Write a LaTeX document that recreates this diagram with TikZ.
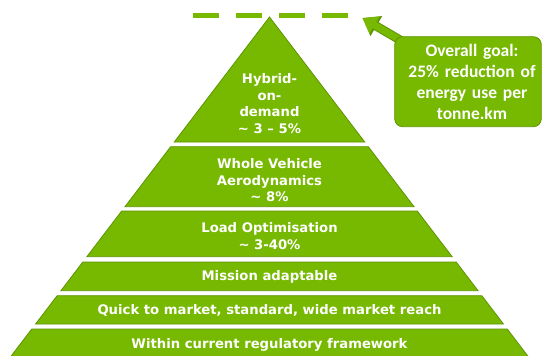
\documentclass[tikz,border=0pt]{standalone}
\usepackage{fontspec}
\setmainfont{DejaVu Sans}
\newfontfamily\goalfont{Carlito}
\usetikzlibrary{arrows.meta,backgrounds}
\definecolor{pgreen}{HTML}{76B900}
\definecolor{pedge}{HTML}{5E9400}
\tikzset{
  layer/.style={fill=pgreen, draw=pedge, line width=0.8pt, line join=miter},
  ltext/.style={text=white, font=\bfseries\fontsize{13.2}{16.5}\selectfont, align=center, inner sep=0pt},
  goalbox/.style={fill=pgreen, draw=pedge, line width=0.8pt, rounded corners=8pt, align=center,
    text=white, font=\goalfont\bfseries\fontsize{17.5}{21}\selectfont},
  dashline/.style={draw=pgreen, line width=5pt, dash pattern=on 26pt off 17pt},
  goalarrowout/.style={draw=pedge, line width=9pt, -{Triangle[length=16pt,width=22pt]}},
  goalarrow/.style={draw=pgreen, line width=7pt, -{Triangle[length=14pt,width=19pt]}}
}
\newcommand{\pyrlayer}[2]{%
  \path[layer] ({269.5-0.762*(#1-17)},#1) -- ({269.5+0.762*(#1-17)},#1)
    -- ({269.5+0.762*(#2-17)},#2) -- ({269.5-0.762*(#2-17)},#2) -- cycle;}
\begin{document}
\begin{tikzpicture}[x=1pt,y=-1pt]
\useasboundingbox (0,0) rectangle (542,356);
\clip (0,0) rectangle (542,356);
% dashed goal line
\coordinate (dashL) at (193,15);
\coordinate (dashR) at (350,15);
\draw[dashline] (dashL) -- (dashR);
% pyramid
\path[layer] (269.5,17) -- ({269.5+0.762*125},142) -- ({269.5-0.762*125},142) -- cycle;
\pyrlayer{146.7}{206.7}
\pyrlayer{211}{256.7}
\pyrlayer{262}{290.7}
\pyrlayer{295.7}{324}
\pyrlayer{329}{362}
\node[ltext] (l1) at (269.5,103.5) {Hybrid-\\on-\\demand\\\char`\~{} 3 -- 5\%};
\node[ltext] (l2) at (269.5,180.5) {Whole Vehicle\\Aerodynamics\\\char`\~{} 8\%};
\node[ltext] (l3) at (269.5,236.2) {Load Optimisation\\\char`\~{} 3-40\%};
\node[ltext] (l4) at (269.5,277.3) {Mission adaptable};
\node[ltext] (l5) at (269.5,310.5) {Quick to market, standard, wide market reach};
\node[ltext] (l6) at (269.5,345) {Within current regulatory framework};
% goal box and arrow
\node[goalbox, minimum width=146pt, minimum height=90pt, text width=140pt] (goal) at (468,81.7)
  {\hspace*{8pt}Overall goal:\\\hspace*{8pt}25\% reduction of\\\hspace*{8pt}energy use per\\\hspace*{8pt}tonne.km};
\coordinate (tip) at (362.5,18);
\begin{scope}[on background layer]
\draw[goalarrowout] ([shift={(8pt,-5pt)}]goal.north west) -- (tip);
\draw[goalarrow] ([shift={(8pt,-5pt)}]goal.north west) -- (tip);
\end{scope}
\end{tikzpicture}
\end{document}
